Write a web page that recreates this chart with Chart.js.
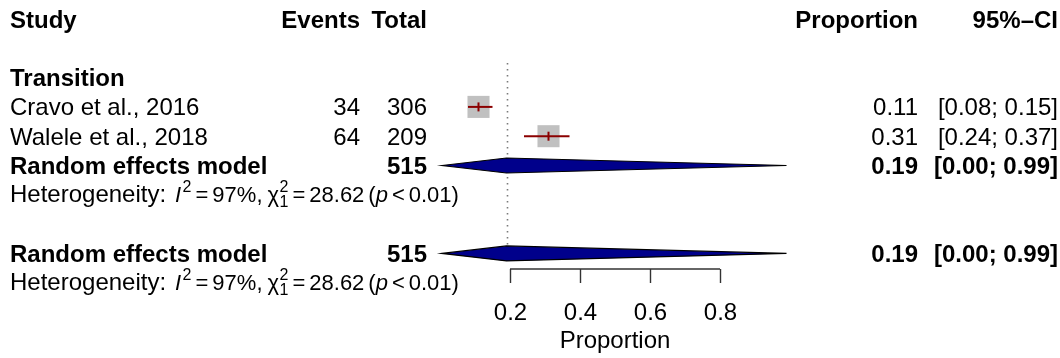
<!DOCTYPE html>
<html><head><meta charset="utf-8">
<script src="https://cdn.jsdelivr.net/npm/chart.js@4/dist/chart.umd.min.js"></script>
<style>html,body{margin:0;padding:0;background:#fff}canvas{display:block}</style>
</head><body>
<canvas id="c" width="1060" height="358"></canvas>
<script>
// ---- data ----
const studies = ["Cravo et al., 2016", "Walele et al., 2018"];
const events = [34, 64];
const totals = [306, 209];
const proportions = [0.11, 0.31];
const ciLower = [0.08, 0.24];
const ciUpper = [0.15, 0.37];
const studyRows = [3, 4];
const subgroupLabel = "Transition";
const pooledTotal = [515, 515];
const pooledEst = [0.19, 0.19];
const pooledLower = [0.00, 0.00];
const pooledUpper = [0.99, 0.99];
const pooledRows = [5, 8];
const hetRows = [6, 9];
const hetI2 = ["97%", "97%"];
const hetChi2 = ["28.62", "28.62"];
const hetDf = ["1", "1"];
const hetP = ["0.01", "0.01"];
const axisTicks = [0.2, 0.4, 0.6, 0.8];
const axisTitle = "Proportion";
const headerLabels = ["Study", "Events", "Total", "Proportion", "95%\u2013CI"];
const pooledLabel = "Random effects model";
const hetLabel = "Heterogeneity:";

const FONT = "'Liberation Sans', Arial, Helvetica, sans-serif";
const f = (s, w) => (w || "") + " " + s + "px " + FONT;

const forestPlugin = {
  id: "forest",
  beforeDatasetsDraw(chart) {
    const ctx = chart.ctx, xs = chart.scales.x, ys = chart.scales.y;
    ctx.save();
    ctx.strokeStyle = "#7a7a7a";
    ctx.lineWidth = 1.6;
    ctx.setLineDash([1.6, 4.4]);
    const xr = Math.round(xs.getPixelForValue(pooledEst[1])) + 0.5;
    ctx.beginPath();
    ctx.moveTo(xr, ys.getPixelForValue(1.5));
    ctx.lineTo(xr, ys.getPixelForValue(pooledRows[1]) - 7);
    ctx.stroke();
    ctx.restore();
  },
  afterDatasetsDraw(chart) {
    const ctx = chart.ctx, xs = chart.scales.x, ys = chart.scales.y;
    ctx.save();
    // CI lines
    ctx.strokeStyle = "#8B0000";
    ctx.lineWidth = 2;
    proportions.forEach((p, i) => {
      const y = ys.getPixelForValue(studyRows[i]);
      ctx.beginPath();
      ctx.moveTo(xs.getPixelForValue(ciLower[i]), y);
      ctx.lineTo(xs.getPixelForValue(ciUpper[i]), y);
      ctx.stroke();
      const x = xs.getPixelForValue(p);
      ctx.beginPath();
      ctx.moveTo(x, y - 4.5);
      ctx.lineTo(x, y + 4.5);
      ctx.stroke();
    });
    // diamonds
    pooledEst.forEach((e, i) => {
      const y = ys.getPixelForValue(pooledRows[i]);
      const h = 7.5;
      ctx.beginPath();
      ctx.moveTo(xs.getPixelForValue(pooledLower[i]) + 2, y);
      ctx.lineTo(xs.getPixelForValue(e), y - h);
      ctx.lineTo(xs.getPixelForValue(pooledUpper[i]), y);
      ctx.lineTo(xs.getPixelForValue(e), y + h);
      ctx.closePath();
      ctx.fillStyle = "#00008B";
      ctx.fill();
      ctx.strokeStyle = "#000";
      ctx.lineWidth = 1.2;
      ctx.stroke();
    });
    // x axis
    const ya = 269;
    ctx.strokeStyle = "#333";
    ctx.lineWidth = 1.4;
    ctx.beginPath();
    ctx.moveTo(xs.getPixelForValue(axisTicks[0]), ya);
    ctx.lineTo(xs.getPixelForValue(axisTicks[axisTicks.length - 1]), ya);
    ctx.stroke();
    ctx.fillStyle = "#000";
    ctx.font = f(24);
    ctx.textAlign = "center";
    ctx.textBaseline = "alphabetic";
    axisTicks.forEach(t => {
      const x = Math.round(xs.getPixelForValue(t)) + 0.5;
      ctx.beginPath();
      ctx.moveTo(x, ya);
      ctx.lineTo(x, ya + 14);
      ctx.stroke();
      ctx.fillText(String(t), x, 320);
    });
    ctx.fillText(axisTitle, (xs.getPixelForValue(axisTicks[0]) + xs.getPixelForValue(axisTicks[axisTicks.length - 1])) / 2, 348);

    // text columns
    const base = r => ys.getPixelForValue(r) + 8.5;
    const colStudy = 10, colEvents = 360, colTotal = 427, colProp = 918, colCI = 1058;
    ctx.font = f(24, "bold");
    ctx.textAlign = "left";
    ctx.fillText(headerLabels[0], colStudy, base(0));
    ctx.textAlign = "right";
    ctx.fillText(headerLabels[1], colEvents, base(0));
    ctx.fillText(headerLabels[2], colTotal, base(0));
    ctx.fillText(headerLabels[3], colProp, base(0));
    ctx.fillText(headerLabels[4], colCI, base(0));
    ctx.textAlign = "left";
    ctx.fillText(subgroupLabel, colStudy, base(2));

    ctx.font = f(24);
    studies.forEach((s, i) => {
      const b = base(studyRows[i]);
      ctx.textAlign = "left";
      ctx.fillText(s, colStudy, b);
      ctx.textAlign = "right";
      ctx.fillText(String(events[i]), colEvents, b);
      ctx.fillText(String(totals[i]), colTotal, b);
      ctx.fillText(proportions[i].toFixed(2), colProp, b);
      ctx.fillText("[" + ciLower[i].toFixed(2) + "; " + ciUpper[i].toFixed(2) + "]", colCI, b);
    });
    ctx.font = f(24, "bold");
    pooledRows.forEach((r, i) => {
      const b = base(r);
      ctx.textAlign = "left";
      ctx.fillText(pooledLabel, colStudy, b);
      ctx.textAlign = "right";
      ctx.fillText(String(pooledTotal[i]), colTotal, b);
      ctx.fillText(pooledEst[i].toFixed(2), colProp, b);
      ctx.fillText("[" + pooledLower[i].toFixed(2) + "; " + pooledUpper[i].toFixed(2) + "]", colCI, b);
    });
    // heterogeneity lines
    hetRows.forEach((r, i) => {
      const y = base(r) - 1;
      let cx = colStudy;
      ctx.textAlign = "left";
      const put = (t, font, dy, gapAfter) => {
        ctx.font = font;
        ctx.fillText(t, cx, y + (dy || 0));
        cx += ctx.measureText(t).width + (gapAfter || 0);
      };
      const g = 4, fs = 22, fsS = 16;
      put(hetLabel, f(24), 0, 0);
      cx = 175;
      put("I", f(fs, "italic"), 0, 1.5);
      put("2", f(fsS), -10, g);
      put("=", f(fs), 0, g);
      put(hetI2[i] + ",", f(fs), 0, g + 1);
      put("\u03C7", f(fs), 0, 0.5);
      ctx.font = f(fsS);
      const w = ctx.measureText("2").width;
      ctx.fillText("2", cx, y - 10);
      ctx.fillText(hetDf[i], cx, y + 5);
      cx += w + g;
      put("=", f(fs), 0, g);
      put(hetChi2[i], f(fs), 0, g);
      put("(", f(fs), 0, 0);
      put("p", f(fs, "italic"), 0, g);
      put("<", f(fs), 0, g);
      put(hetP[i] + ")", f(fs), 0, 0);
    });
    ctx.restore();
  }
};

new Chart(document.getElementById("c"), {
  type: "scatter",
  data: {
    datasets: [{
      data: proportions.map((p, i) => ({ x: p, y: studyRows[i] })),
      pointStyle: "rect",
      pointRadius: 15.6,
      pointHoverRadius: 15.6,
      backgroundColor: "#c0c0c0",
      borderColor: "#c0c0c0",
      borderWidth: 0
    }]
  },
  options: {
    responsive: false,
    animation: false,
    events: [],
    layout: { padding: { left: 440, right: 270, top: 19, bottom: 46 } },
    scales: {
      x: { type: "linear", min: 0, max: 1, display: false },
      y: { type: "linear", min: 0, max: 10, reverse: true, display: false }
    },
    plugins: { legend: { display: false }, tooltip: { enabled: false } }
  },
  plugins: [forestPlugin]
});
</script>
</body></html>
